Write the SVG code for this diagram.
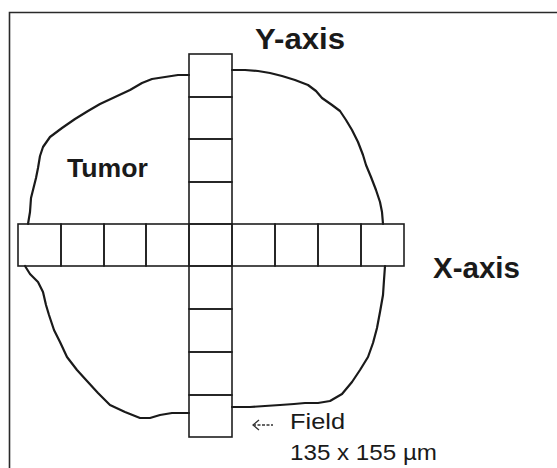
<svg xmlns="http://www.w3.org/2000/svg" width="557" height="468" viewBox="0 0 557 468">
<style>
.frame{fill:none;stroke:#2a2a2a;stroke-width:1.6}
.cell{fill:none;stroke:#1e1e1e;stroke-width:1.6}
.outline{fill:none;stroke:#1a1a1a;stroke-width:2.2;stroke-linejoin:round;stroke-linecap:round}
.bold{font-family:"Liberation Sans",Arial,sans-serif;font-weight:bold;fill:#1a1a1a}
.reg{font-family:"Liberation Sans",Arial,sans-serif;fill:#1a1a1a}
.arrow{fill:none;stroke:#333;stroke-width:1.3}
</style>
<rect width="557" height="468" fill="#fff"/>
<g id="frame">
<path class="frame" d="M9.5,468 V12.5 H557"/>
</g>
<g id="tumor-outline">
<polyline class="outline" points="28,224 30,212 31,198 33,190 36,178 38,168 40,156 43,147 50,137 62,128 75,119 88,111 100,104 115,97 130,90 142,83 152,79 165,77 178,75 189,75"/>
<polyline class="outline" points="232,70 245,70 258,71 270,73 282,76 295,80 308,85 316,91 322,98 332,105 340,111 346,120 352,130 358,142 363,155 366,165 371,177 376,190 380,202 382,212 383,224"/>
<polyline class="outline" points="385,266 384,280 383,295 380,312 377,328 373,343 368,357 360,370 352,382 342,394 330,401 318,403 305,403 294,404 280,405 265,406 250,407 232,407"/>
<polyline class="outline" points="25,266 30,274 38,282 43,292 46,305 49,315 54,330 60,342 67,357 77,370 87,381 98,393 110,405 125,412 140,418 150,418 160,415 172,413 189,413"/>
</g>
<g id="x-axis-fields">
<rect class="cell" x="18" y="224" width="43" height="42"/>
<rect class="cell" x="61" y="224" width="43" height="42"/>
<rect class="cell" x="104" y="224" width="42" height="42"/>
<rect class="cell" x="146" y="224" width="43" height="42"/>
<rect class="cell" x="232" y="224" width="43" height="42"/>
<rect class="cell" x="275" y="224" width="43" height="42"/>
<rect class="cell" x="318" y="224" width="43" height="42"/>
<rect class="cell" x="361" y="224" width="43" height="42"/>
</g>
<g id="y-axis-fields">
<rect class="cell" x="189" y="54" width="43" height="43"/>
<rect class="cell" x="189" y="97" width="43" height="42"/>
<rect class="cell" x="189" y="139" width="43" height="43"/>
<rect class="cell" x="189" y="182" width="43" height="42"/>
<rect class="cell" x="189" y="224" width="43" height="42"/>
<rect class="cell" x="189" y="266" width="43" height="43"/>
<rect class="cell" x="189" y="309" width="43" height="43"/>
<rect class="cell" x="189" y="352" width="43" height="43"/>
<rect class="cell" x="189" y="395" width="43" height="42"/>
</g>
<g id="label-y-axis"><text class="bold" x="255" y="49" font-size="30" textLength="90" lengthAdjust="spacingAndGlyphs">Y-axis</text></g>
<g id="label-x-axis"><text class="bold" x="433" y="278" font-size="30" textLength="87" lengthAdjust="spacingAndGlyphs">X-axis</text></g>
<g id="label-tumor"><text class="bold" x="67" y="177" font-size="25" textLength="81" lengthAdjust="spacingAndGlyphs">Tumor</text></g>
<g id="connectors">
<path class="arrow" d="M253,425 H273" stroke-dasharray="3,1.5"/>
<path class="arrow" d="M259,420 L253,425 L259,430"/>
</g>
<g id="label-field">
<text class="reg" x="290" y="429" font-size="22.5" textLength="55" lengthAdjust="spacingAndGlyphs">Field</text>
<text class="reg" x="290" y="460" font-size="22" textLength="147" lengthAdjust="spacingAndGlyphs">135 x 155 µm</text>
</g>
</svg>
